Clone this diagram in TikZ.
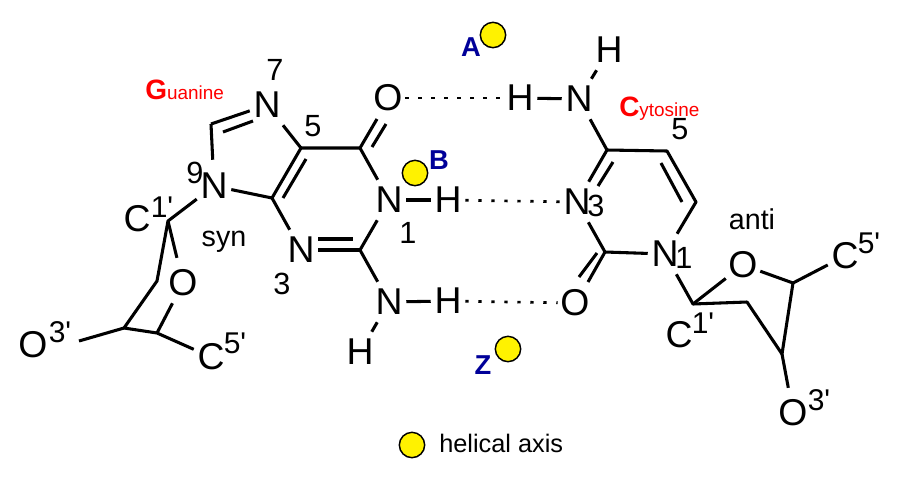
\documentclass[tikz,border=0pt]{standalone}
\usepackage{fontspec}
\setmainfont{Liberation Sans}
\definecolor{basered}{RGB}{255,0,0}
\definecolor{grooveblue}{RGB}{0,0,153}
\tikzset{
  atom/.style={inner sep=0pt,minimum width=25.5pt,minimum height=30pt,font=\fontsize{28}{32}\selectfont},
  locant/.style={inner sep=0pt,font=\fontsize{23}{27}\selectfont},
  primed/.style={inner sep=0pt,font=\fontsize{22.5}{26}\selectfont},
  conf/.style={inner sep=0pt,font=\fontsize{21.5}{25}\selectfont},
  bond/.style={line width=2.3pt,line join=round},
  hbond/.style={line width=2pt,dash pattern=on 2.5pt off 7.25pt},
  axisdot/.style={circle,draw=black,fill=yellow,line width=1.1pt,inner sep=0pt,minimum size=19pt},
  groove/.style={inner sep=0pt,text=grooveblue,font=\fontsize{20.5}{24}\bfseries\selectfont},
  basename/.style={inner sep=0pt,text=basered,font=\fontsize{14.2}{18}\selectfont},
  px/.style={x=0.75pt,y=-0.75pt}
}
\newcommand{\bigfirst}[1]{{\fontsize{21}{24}\bfseries\selectfont #1}}
\begin{document}
\begin{tikzpicture}[px]
  \useasboundingbox (0,0) rectangle (904,480);

  % guanine
  \node[atom] (gN7) at (267,105) {N};
  \node[atom] (gN9) at (214,186) {N};
  \node[atom] (gN1) at (389,200) {N};
  \node[atom] (gN3) at (301,250) {N};
  \node[atom] (gN2) at (389,302) {N};
  \node[atom] (gO6) at (388,98) {O};
  \node[atom] (gH1) at (448,200) {H};
  \node[atom] (gH2) at (448,301) {H};
  \node[atom] (gH3) at (360,352) {H};
  \coordinate (gC8) at (211,124);
  \coordinate (gC4) at (272,198);
  \coordinate (gC5) at (301,148);
  \coordinate (gC6) at (360,148);
  \coordinate (gC2) at (360,250);
  \draw[bond] (gN7) -- (gC8);
  \draw[bond,shorten >=4.5pt] (gC8) -- (gN9);
  \draw[bond] (gN9) -- (gC4);
  \draw[bond] (gC4) -- (gC5) -- (gC6);
  \draw[bond] (gC5) -- (gN7);
  \draw[bond] (gC6) -- (gN1) -- (gC2);
  \draw[bond] (gC4) -- (gN3);
  \draw[bond] (gN3.south east |- gC2) -- (gC2);
  \draw[bond] (gC2) -- (gN2);
  \draw[bond] (gN1) -- (gH1);
  \draw[bond] (gN2) -- (gH2);
  \draw[bond] (gN2) -- (gH3);
  \coordinate (g87a) at (223,132);
  \coordinate (g87b) at (253,121);
  \coordinate (g54a) at (306,159);
  \coordinate (g54b) at (283,198);
  \coordinate (g32a) at (318,239);
  \coordinate (g32b) at (353,239);
  \coordinate (g6Oa) at (377,119);
  \coordinate (g6Ob) at (372,147);
  \coordinate (g6Oc) at (386,124);
  \draw[bond] (g87a) -- (g87b);
  \draw[bond] (g54a) -- (g54b);
  \draw[bond] (g32a) -- (g32b);
  \draw[bond] (gC6) -- (g6Oa);
  \draw[bond] (g6Ob) -- (g6Oc);

  % guanine sugar
  \node[atom] (gO) at (183,283) {O};
  \node[atom] (gC1l) at (137,219) {C};
  \node[primed] (gC1s) at (162,207) {1\textquotesingle};
  \node[atom] (gO3l) at (33,345) {O};
  \node[primed] (gO3s) at (60,332) {3\textquotesingle};
  \node[atom] (gC5l) at (211,357) {C};
  \node[primed] (gC5s) at (235,343) {5\textquotesingle};
  \coordinate (gS1) at (168,221);
  \coordinate (gS2) at (157,281);
  \coordinate (gS3) at (124,328);
  \coordinate (gS4) at (157,333);
  \coordinate (gO3e) at (79,341);
  \draw[bond] (gN9) -- (gS1) -- (gS2) -- (gS3) -- (gS4) -- (gC5l);
  \draw[bond,shorten >=3.75pt] (gS1) -- (gO);
  \draw[bond] (gS4) -- (gO);
  \draw[bond] (gS3) -- (gO3e);

  % cytosine
  \node[atom] (cH4) at (520,98) {H};
  \node[atom] (cN4) at (579,99) {N};
  \node[atom] (cH5) at (609,50) {H};
  \node[atom] (cN3) at (577,202) {N};
  \node[atom] (cN1) at (665,254) {N};
  \node[atom] (cO2) at (575,303) {O};
  \coordinate (cC4) at (607,150);
  \coordinate (cC5) at (667,151);
  \coordinate (cC6) at (696,202);
  \coordinate (cC2) at (605,252);
  \draw[bond] (cH4) -- (cN4);
  \draw[bond] (cN4) -- (cH5);
  \draw[bond] (cN4) -- (cC4) -- (cC5) -- (cC6) -- (cN1) -- (cC2) -- (cN3) -- (cC4);
  \coordinate (c43a) at (613,162);
  \coordinate (c43b) at (598,186);
  \coordinate (c56a) at (661,163);
  \coordinate (c56b) at (682,202);
  \coordinate (c2Oa) at (597,253);
  \coordinate (c2Ob) at (579,277);
  \coordinate (c2Oc) at (588,282);
  \draw[bond] (c43a) -- (c43b);
  \draw[bond] (c56a) -- (c56b);
  \draw[bond] (c2Oa) -- (c2Ob);
  \draw[bond] (cC2) -- (c2Oc);

  % cytosine sugar
  \node[atom] (cO) at (743,265) {O};
  \node[atom] (cC1l) at (679,335) {C};
  \node[primed] (cC1s) at (703,323) {1\textquotesingle};
  \node[atom] (cC5l) at (845,256) {C};
  \node[primed] (cC5s) at (869,243) {5\textquotesingle};
  \node[atom] (cO3l) at (793,413) {O};
  \node[primed] (cO3s) at (819,400) {3\textquotesingle};
  \coordinate (cS1) at (693,304);
  \coordinate (cS2) at (747,302);
  \coordinate (cS3) at (782,354);
  \coordinate (cS4) at (793,283);
  \draw[bond] (cN1) -- (cS1) -- (cS2) -- (cS3) -- (cS4) -- (cC5l);
  \draw[bond] (cS1) -- (cO) -- (cS4);
  \draw[bond,shorten >=3.75pt] (cS3) -- (cO3l);

  % hydrogen bonds
  \draw[hbond] (gO6) -- (cH4);
  \draw[hbond] (gH1) -- (cN3);
  \draw[hbond] (gH2) -- (cO2);

  % ring numbers
  \node[locant] (g7) at (275,70) {7};
  \node[locant] (g5) at (313,126) {5};
  \node[locant] (g9) at (195,173) {9};
  \node[locant] (g1) at (408,233) {1};
  \node[locant] (g3) at (282,284) {3};
  \node[locant] (c3) at (596,206) {3};
  \node[locant] (c1) at (684,258) {1};
  \node[conf] (gsyn) at (224,242) {syn};
  \node[conf] (canti) at (752,219) {anti};

  \node[basename,anchor=west] (gname) at (145,90) {\bigfirst{G}uanine};
  \node[basename,anchor=west] (cname) at (619,109) {\bigfirst{C}ytosine};
  \node[locant] (c5) at (680,129) {5};

  % grooves and axis
  \node[axisdot] (dotA) at (493,35) {};
  \node[axisdot] (dotB) at (415,173) {};
  \node[axisdot] (dotZ) at (508,349) {};
  \node[axisdot] (dotH) at (412,445) {};
  \node[groove] (lblA) at (471,47) {A};
  \node[groove] (lblB) at (439,160) {B};
  \node[groove] (lblZ) at (483,365) {Z};
  \node[inner sep=0pt,anchor=west,font=\fontsize{19}{23}\selectfont] (lblH) at (439,443) {helical axis};
\end{tikzpicture}
\end{document}
